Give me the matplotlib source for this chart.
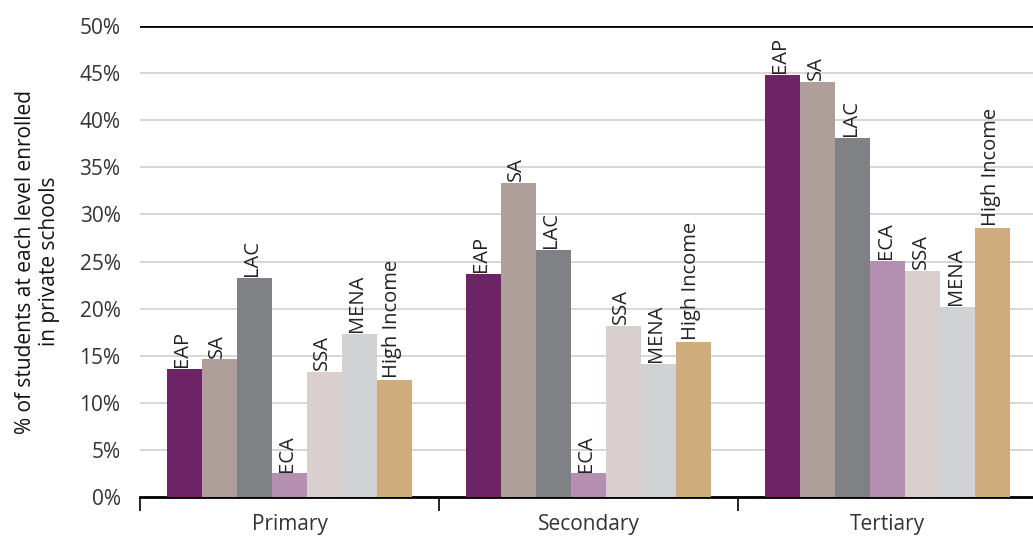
import numpy as np
import matplotlib.pyplot as plt

plt.rcParams['font.family'] = ['Open Sans', 'DejaVu Sans']

levels = ['Primary', 'Secondary', 'Tertiary']
regions = ['EAP', 'SA', 'LAC', 'ECA', 'SSA', 'MENA', 'High Income']
colors = ['#6E2367', '#AE9F9B', '#808184', '#B48FB2', '#D9CFCE', '#D1D2D4', '#CFAC7C']

# % enrolled in private schools, per region, for Primary / Secondary / Tertiary
eap = [13.6, 23.7, 44.8]
sa = [14.6, 33.3, 44.1]
lac = [23.3, 26.2, 38.1]
eca = [2.5, 2.5, 25.1]
ssa = [13.3, 18.2, 24.0]
mena = [17.3, 14.1, 20.2]
high_income = [12.4, 16.5, 28.6]
series = [eap, sa, lac, eca, ssa, mena, high_income]

fig = plt.figure(figsize=(10.33, 5.44), dpi=100)
ax = fig.add_axes([0.1355, 0.0864, 0.8645, 0.8658])

x = np.arange(len(levels))
w = 0.117
for i, (name, vals) in enumerate(zip(regions, series)):
    pos = x + (i - 3) * w
    ax.bar(pos, vals, width=w, color=colors[i], zorder=3)
    for p, v in zip(pos, vals):
        ax.text(p - 0.008, v + 0.2, name, rotation=90, ha='center', va='bottom',
                fontsize=14.5, color='#222222', zorder=4)

ax.set_ylim(0, 50)
ax.set_xlim(-0.5, 2.485)
ax.set_yticks(np.arange(0, 51, 5))
ax.set_yticklabels([f'{t}%' for t in range(0, 51, 5)], fontsize=15, color='#333333')
ax.yaxis.grid(True, color='#D0D0D0', linewidth=1.2, zorder=0)
ax.axhline(50, color='black', linewidth=2, zorder=5)

ax.set_xticks(x)
ax.set_xticklabels(levels, fontsize=15, color='#333333')
ax.set_xticks([-0.5, 0.5, 1.5], minor=True)
ax.tick_params(axis='x', which='major', length=0, pad=12)
ax.tick_params(axis='x', which='minor', length=10, width=1.2, direction='out')
ax.tick_params(axis='y', length=0, pad=14)

for s in ['top', 'right', 'left']:
    ax.spines[s].set_visible(False)
ax.spines['bottom'].set_linewidth(2)

ax.set_ylabel('% of students at each level enrolled\nin private schools', fontsize=15,
              color='#111111', labelpad=14)

fig.savefig('out.png', dpi=100)
